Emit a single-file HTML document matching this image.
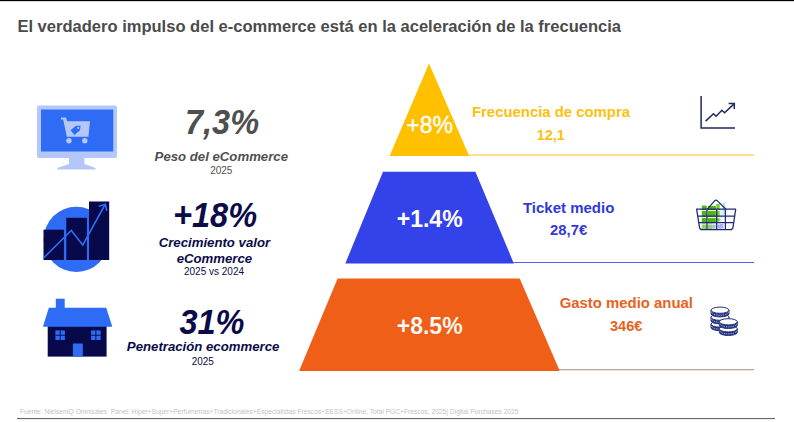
<!DOCTYPE html>
<html><head><meta charset="utf-8">
<style>
html,body{margin:0;padding:0;background:#fff;}
body{width:794px;height:422px;position:relative;overflow:hidden;font-family:"Liberation Sans",sans-serif;}
.t{position:absolute;white-space:nowrap;line-height:1;}
.c{transform:translateX(-50%);text-align:center;}
.bi{font-weight:bold;font-style:italic;}
.b{font-weight:bold;}
.big{font-size:34px;transform:translateX(-50%) scale(0.957,1.03);}
svg{position:absolute;left:0;top:0;}
</style></head><body>
<svg width="794" height="422" viewBox="0 0 794 422">
<rect x="0" y="0" width="794" height="1.15" fill="#000"/>
<!-- pyramid -->
<polygon points="429,63.5 469.2,156.1 389.6,156.1" fill="#ffc000"/>
<rect x="469" y="154.3" width="285" height="1.5" fill="#ffd666"/>
<polygon points="383,171.8 475.4,171.8 513.8,263.4 345.3,263.4" fill="#3442ea"/>
<rect x="513" y="262" width="241" height="1" fill="#5560f0"/>
<polygon points="337.6,278.5 519.7,278.5 559.8,371 299.1,371" fill="#f05f17"/>
<rect x="559" y="369.05" width="195" height="0.85" fill="#9696a2"/><rect x="559" y="369.9" width="195" height="0.9" fill="#fbd5c0"/>
<rect x="17" y="418.15" width="758" height="0.95" fill="#505050"/>

<!-- monitor icon -->
<g id="monitor">
<rect x="37" y="105.5" width="80" height="52.5" rx="2" fill="#b4c7f9"/>
<rect x="41" y="109.5" width="72.3" height="42" fill="#2f6cf6"/>
<polygon points="69,158 84.5,158 84.5,164 95.5,168 95.5,169.6 57.3,169.6 57.3,168 69,164" fill="#b4c7f9"/>
<g fill="#b4c7f9" stroke="none">
<path d="M61,117.4 h5 l1.1,3.8 h22.9 l-1.6,15.6 h-21.6 l-3.6,-17.4 h-2.2 z"/>
<circle cx="69" cy="140.8" r="2.7"/>
<circle cx="84.8" cy="140.8" r="2.7"/>
</g>
<g transform="translate(76.8,129) rotate(-40)"><path d="M-5.6,-3 h7 l3.6,3 l-3.6,3 h-7 z" fill="#2f6cf6"/><circle cx="1.8" cy="0" r="1.1" fill="#b4c7f9"/></g>
</g>

<!-- bars icon -->
<g id="bars">
<circle cx="76.3" cy="239.4" r="32.6" fill="#2f6cf6"/>
<rect x="43.5" y="229.7" width="20.4" height="30.3" fill="#07094a"/>
<rect x="66.3" y="217.8" width="20.6" height="42.2" fill="#07094a"/>
<rect x="89" y="201.5" width="20.2" height="58.5" fill="#07094a"/>
<polyline points="43.5,258 71.3,230.5 82.8,245 104.8,205" fill="none" stroke="#2f6cf6" stroke-width="1.6" stroke-linejoin="miter"/>
<polyline points="98.8,206.2 105.3,204.3 106.8,210.8" fill="none" stroke="#2f6cf6" stroke-width="1.6"/>
</g>

<!-- house icon -->
<g id="house">
<rect x="47.7" y="326" width="58.9" height="30.6" fill="#07094a"/>
<rect x="55.8" y="298.7" width="8.9" height="12" fill="#2f6cf6"/>
<polygon points="48.8,307.8 106.2,307.8 112.1,326 112.1,326.8 43.1,326.8 43.1,326" fill="#2f6cf6"/>
<rect x="55.4" y="330.4" width="9.5" height="9.6" fill="#2f6cf6"/>
<rect x="59.7" y="330.4" width="0.9" height="9.6" fill="#07094a"/>
<rect x="55.4" y="334.8" width="9.5" height="0.9" fill="#07094a"/>
<rect x="91.1" y="330.4" width="9.5" height="9.6" fill="#2f6cf6"/>
<rect x="95.4" y="330.4" width="0.9" height="9.6" fill="#07094a"/>
<rect x="91.1" y="334.8" width="9.5" height="0.9" fill="#07094a"/>
<rect x="72.9" y="343.5" width="9.9" height="13.1" fill="#2f6cf6"/>
</g>

<!-- line chart icon -->
<g id="lchart" fill="none" stroke="#1f2a5e" stroke-width="1.5">
<polyline points="701.1,96 701.1,128 735,128"/>
<polyline points="705.6,121.1 713.5,113.7 716.1,116.3 721.9,110.2 724.6,112.8 734.3,103.6"/>
<polyline points="728.6,103.6 734.3,103.6 734.3,109"/>
</g>

<!-- basket icon -->
<g id="basket">
<rect x="701.8" y="205.6" width="4.9" height="17" fill="#4fb30e"/>
<rect x="701.8" y="223" width="4.9" height="6" fill="#8fd45a"/>
<rect x="708" y="206" width="7.8" height="17" fill="#4fb30e"/>
<rect x="708" y="223" width="4.5" height="6" fill="#8fd45a"/>
<rect x="712.5" y="223.6" width="3" height="5" fill="#a9aef2"/>
<rect x="716.2" y="203.9" width="3.5" height="17.5" fill="#7ccf2c"/>
<rect x="722.4" y="202.3" width="2.6" height="12.5" fill="#bfe9ef"/>
<rect x="720.2" y="209" width="2" height="12" fill="#dfeefb"/>
<rect x="717.6" y="224" width="5.8" height="4.6" fill="#aab0f0"/>
<g fill="#fff" opacity="0.85">
<rect x="701" y="210" width="19" height="1.1"/>
<rect x="701" y="217" width="19" height="1.1"/>
<rect x="701" y="223.6" width="19" height="1"/>
</g>
<g fill="none" stroke="#1b2a70" stroke-width="1.25" stroke-linejoin="round">
<path d="M696.6,209.2 H735.7 L733,227.4 Q732.6,229.7 730.4,229.7 H702 Q699.9,229.7 699.5,227.4 Z"/>
<path d="M707.3,209.2 L714.6,200.9 Q716,199.5 717.4,200.9 L726,209.2"/>
<path d="M697.6,216 H734.7 M698.6,222.7 H733.7"/>
<path d="M707,209.2 V229.7 M716.7,209.2 V229.7 M725.4,209.2 V229.7"/>
</g>
</g>

<!-- coins icon -->
<g id="coins">
<path d="M711.0,324.0 v3.6 a9.0,3.1 0 0 0 18.0,0 v-3.6 z" fill="#27357f" stroke="#27357f" stroke-width="1"/><path d="M711.6,326.0 a8.4,3.1 0 0 0 16.8,0" fill="none" stroke="#fff" stroke-width="0.9" stroke-dasharray="0.7 1.1"/><ellipse cx="720" cy="324.0" rx="9.0" ry="3.1" fill="#fff" stroke="#27357f" stroke-width="1"/>
<path d="M711.0,317.2 v3.6 a9.0,3.1 0 0 0 18.0,0 v-3.6 z" fill="#27357f" stroke="#27357f" stroke-width="1"/><path d="M711.6,319.2 a8.4,3.1 0 0 0 16.8,0" fill="none" stroke="#fff" stroke-width="0.9" stroke-dasharray="0.7 1.1"/><ellipse cx="720" cy="317.2" rx="9.0" ry="3.1" fill="#fff" stroke="#27357f" stroke-width="1"/>
<path d="M711.0,310.2 v3.6 a9.0,3.1 0 0 0 18.0,0 v-3.6 z" fill="#27357f" stroke="#27357f" stroke-width="1"/><path d="M711.6,312.2 a8.4,3.1 0 0 0 16.8,0" fill="none" stroke="#fff" stroke-width="0.9" stroke-dasharray="0.7 1.1"/><ellipse cx="720" cy="310.2" rx="9.0" ry="3.1" fill="#fff" stroke="#27357f" stroke-width="1"/>
<path d="M719.3,328.8 v3.6 a9.0,3.1 0 0 0 18.0,0 v-3.6 z" fill="#27357f" stroke="#27357f" stroke-width="1"/><path d="M719.9,330.8 a8.4,3.1 0 0 0 16.8,0" fill="none" stroke="#fff" stroke-width="0.9" stroke-dasharray="0.7 1.1"/><ellipse cx="728.3" cy="328.8" rx="9.0" ry="3.1" fill="#fff" stroke="#27357f" stroke-width="1"/>
<path d="M719.3,321.8 v3.6 a9.0,3.1 0 0 0 18.0,0 v-3.6 z" fill="#27357f" stroke="#27357f" stroke-width="1"/><path d="M719.9,323.8 a8.4,3.1 0 0 0 16.8,0" fill="none" stroke="#fff" stroke-width="0.9" stroke-dasharray="0.7 1.1"/><ellipse cx="728.3" cy="321.8" rx="9.0" ry="3.1" fill="#fff" stroke="#27357f" stroke-width="1"/>
</g>
</svg>

<div class="t b" id="title" style="left:17.4px;top:19.2px;font-size:16.545px;color:#4b4b4b;">El verdadero impulso del e-commerce está en la aceleración de la frecuencia</div>

<div class="t c bi big" style="left:222.2px;top:104.8px;color:#4f4f4f;">7,3%</div>
<div class="t c bi" style="left:221.3px;top:150px;font-size:13.2px;color:#4f4f4f;">Peso del eCommerce</div>
<div class="t c" style="left:221.3px;top:165.6px;font-size:10px;color:#4f4f4f;">2025</div>

<div class="t c bi big" style="left:215px;top:197.5px;color:#0b0b48;">+18%</div>
<div class="t c bi" style="left:214.4px;top:236px;font-size:13.2px;color:#0b0b48;">Crecimiento valor</div>
<div class="t c bi" style="left:214.4px;top:251.8px;font-size:13.2px;color:#0b0b48;">eCommerce</div>
<div class="t c" style="left:214px;top:267.1px;font-size:10px;color:#0b0b48;">2025 vs 2024</div>

<div class="t c bi big" style="left:211.9px;top:305.4px;color:#0b0b48;">31%</div>
<div class="t c bi" style="left:203.1px;top:340.2px;font-size:13.2px;color:#0b0b48;">Penetración ecommerce</div>
<div class="t c" style="left:202.8px;top:356.6px;font-size:10px;color:#0b0b48;">2025</div>

<div class="t c" style="left:429.7px;top:114px;font-size:23px;color:#fff;-webkit-text-stroke:0.35px #fff;">+8%</div>
<div class="t c b" style="left:429.7px;top:207.6px;font-size:23px;color:#fff;">+1.4%</div>
<div class="t c b" style="left:429.7px;top:314.9px;font-size:23px;color:#fff;-webkit-text-stroke:0.2px #f05f17;">+8.5%</div>

<div class="t c b" style="left:551px;top:105px;font-size:14.9px;color:#fcc010;">Frecuencia de compra</div>
<div class="t c b" style="left:550.8px;top:127.5px;font-size:14.5px;color:#fcc010;">12,1</div>

<div class="t c b" style="left:568.6px;top:200px;font-size:15px;color:#3138d6;">Ticket medio</div>
<div class="t c b" style="left:568.6px;top:222.6px;font-size:14.8px;color:#3138d6;">28,7€</div>

<div class="t c b" style="left:626.3px;top:296px;font-size:14.9px;color:#e8621c;">Gasto medio anual</div>
<div class="t c b" style="left:626.2px;top:318.5px;font-size:14.5px;color:#e8621c;">346€</div>

<div class="t" style="left:20px;top:408.5px;font-size:6.68px;color:#c2c2c2;">Fuente: NielsenIQ Omnisales&nbsp; Panel: Hiper+Super+Perfumerías+Tradicionales+Especialistas Frescos+EESS+Online, Total PGC+Frescos, 2025| Digital Purchases 2025</div>
</body></html>
